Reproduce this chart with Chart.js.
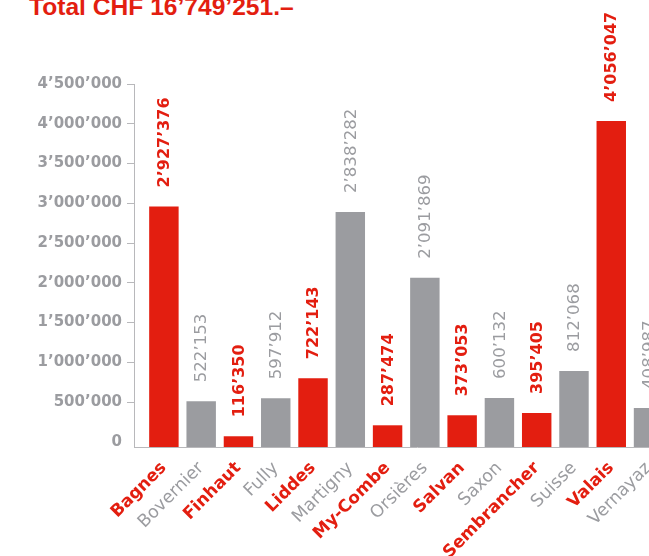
<!DOCTYPE html>
<html>
<head>
<meta charset="utf-8">
<script src="https://cdn.jsdelivr.net/npm/chart.js@4/dist/chart.umd.min.js"></script>
<style>
  html, body { margin: 0; padding: 0; background: #fff; overflow: hidden; }
  #wrap { position: relative; width: 649px; height: 556px; overflow: hidden; }
  #total {
    position: absolute; left: 29px; top: -5px;
    font: bold 24.6px "Liberation Sans", Arial, sans-serif; line-height: 24px;
    color: #e31e10; white-space: nowrap;
  }
  canvas { position: absolute; left: 0; top: 0; }
</style>
</head>
<body>
<div id="wrap">
  <div id="total">Total CHF 16’749’251.–</div>
  <canvas id="chart1" width="700" height="556"></canvas>
</div>
<script>
const communes = ['Bagnes', 'Bovernier', 'Finhaut', 'Fully', 'Liddes', 'Martigny', 'My-Combe',
                  'Orsières', 'Salvan', 'Saxon', 'Sembrancher', 'Suisse', 'Valais', 'Vernayaz']
// bar heights as drawn in the picture
const barValues = [2960000, 510000, 70000, 548000, 800000, 2890000, 208000,
                   2063000, 334000, 552000, 363000, 892000, 4036000, 426000]
// amounts printed above the bars
const printedValues = ['2’927’376', '522’153', '116’350', '597’912', '722’143', '2’838’282', '287’474',
                       '2’091’869', '373’053', '600’132', '395’405', '812’068', '4’056’047', '408’987']
const highlighted = [true, false, true, false, true, false, true, false, true, false, true, false, true, false]
const yTicks = [0, 500000, 1000000, 1500000, 2000000, 2500000, 3000000, 3500000, 4000000, 4500000]

const red = '#e31e10'
const grey = '#9b9ca0'
const axisGrey = '#b8b8bb'
const fontFamily = '"DejaVu Sans", sans-serif'

// pixel pitch between two communes and centre of the first one
const pitch = 37.28
const firstCentre = 163.9

function swiss(n) {
    return String(n).replace(/\B(?=(\d{3})+(?!\d))/g, '’')
}

const valueLabels = {
    id: 'valueLabels',
    afterDatasetsDraw(chart) {
        const ctx = chart.ctx
        const meta = chart.getDatasetMeta(0)
        meta.data.forEach((bar, i) => {
            ctx.save()
            ctx.translate(bar.x + 1, bar.y - 19)
            ctx.rotate(-Math.PI / 2)
            ctx.textAlign = 'left'
            ctx.textBaseline = 'middle'
            ctx.fillStyle = highlighted[i] ? red : grey
            ctx.font = highlighted[i] ? 'bold 16px ' + fontFamily : '16.6px ' + fontFamily
            ctx.fillText(printedValues[i], 0, 0)
            ctx.restore()
        })
    }
}

// keep the commune spacing fixed whatever width the layout leaves for the plot
const fixPitch = {
    id: 'fixPitch',
    afterLayout(chart) {
        const x = chart.scales.x
        const area = chart.chartArea
        const min = -(firstCentre - area.left) / pitch
        const max = min + (area.right - area.left) / pitch
        if (Math.abs(x.options.min - min) > 1e-4 || Math.abs(x.options.max - max) > 1e-4) {
            x.options.min = min
            x.options.max = max
            chart.update('none')
        }
    }
}

const ctx = document.getElementById('chart1').getContext('2d')
const chart = new Chart(ctx, {
    type: 'bar',
    data: {
        datasets: [{
            data: barValues.map((v, i) => ({ x: i, y: v })),
            backgroundColor: highlighted.map(h => h ? red : grey),
            borderWidth: 0,
            base: -65000,
            barPercentage: 0.79,
            categoryPercentage: 1
        }]
    },
    options: {
        responsive: false,
        animation: false,
        layout: { autoPadding: false, padding: { top: 84, left: 0, right: 0, bottom: 0 } },
        plugins: { legend: { display: false }, tooltip: { enabled: false } },
        scales: {
            x: {
                type: 'linear',
                offset: false,
                min: -0.802,
                max: 14.3,
                afterFit: s => { s.height = 109 },
                afterBuildTicks: s => { s.ticks = communes.map((c, i) => ({ value: i })) },
                grid: { display: false, offset: false },
                border: { display: true, color: axisGrey, width: 1 },
                ticks: {
                    autoSkip: false,
                    maxRotation: 45,
                    minRotation: 45,
                    padding: 3,
                    callback: v => communes[v],
                    color: c => highlighted[c.index] ? red : grey,
                    font: c => ({ family: fontFamily, size: highlighted[c.index] ? 17 : 17.5, weight: highlighted[c.index] ? 'bold' : 'normal' })
                }
            },
            y: {
                min: -65000,
                max: 4500000,
                afterFit: s => { s.width = 134 },
                afterBuildTicks: s => { s.ticks = yTicks.map(v => ({ value: v })) },
                grid: {
                    drawOnChartArea: false,
                    tickLength: 7,
                    color: c => c.tick && c.tick.value === 0 ? 'rgba(0,0,0,0)' : axisGrey
                },
                border: { color: axisGrey, width: 1 },
                ticks: {
                    padding: 5,
                    color: grey,
                    font: { family: fontFamily, size: 15, weight: 'bold' },
                    callback: v => swiss(v)
                }
            }
        }
    },
    plugins: [valueLabels, fixPitch]
})
</script>
</body>
</html>
